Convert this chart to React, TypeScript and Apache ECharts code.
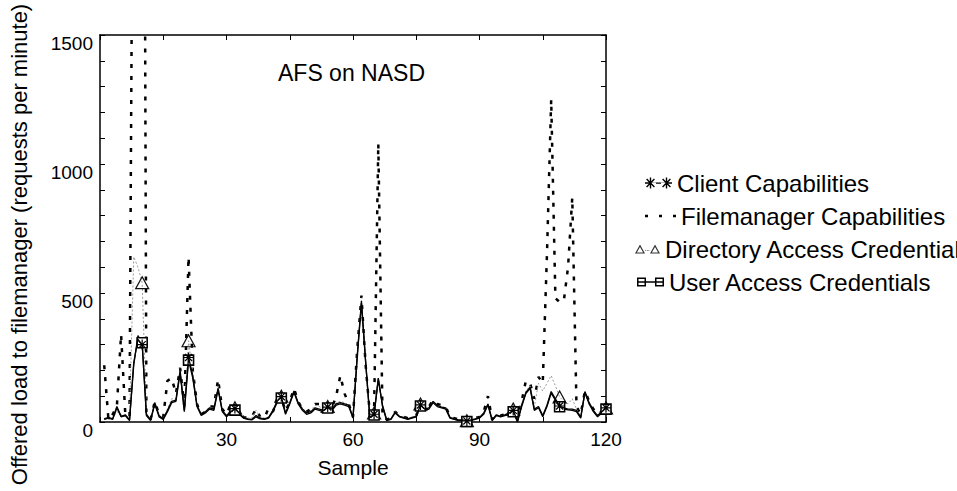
import React, { useEffect, useRef } from "react";
import * as echarts from "echarts";

const FONT = "'Liberation Sans', Arial, Helvetica, sans-serif";

// Sample numbers (x) and marker placement
const samples: number[] = Array.from({ length: 120 }, (_, i) => i + 1);
const markerFirstSample = 10;
const markerStep = 11;

const xTicks = { min: 0, max: 120, interval: 15, labelEvery: 30 };
const yTicks = { min: 0, max: 1500, interval: 100, labelEvery: 500 };

const seriesNames = [
  "Client Capabilities",
  "Filemanager Capabilities",
  "Directory Access Credentials",
  "User Access Credentials",
];

const clientCaps = [
  12, 18, 12, 60, 22, 28, 8, 230, 320, 300,
  30, 8, 75, 25, 12, 45, 80, 85, 200, 45,
  250, 180, 65, 30, 40, 55, 50, 130, 45, 25,
  40, 52, 35, 18, 12, 10, 25, 15, 12, 18,
  45, 80, 98, 35, 75, 120, 75, 50, 35, 40,
  55, 50, 45, 58, 50, 70, 75, 70, 65, 18,
  255, 470, 235, 18, 30, 170, 65, 8, 12, 38,
  22, 18, 12, 18, 22, 66, 50, 55, 80, 65,
  58, 55, 18, 12, 8, 8, 4, 8, 12, 18,
  35, 70, 8, 28, 22, 28, 35, 45, 3, 65,
  115, 135, 50, 60, 25, 65, 118, 90, 62, 55,
  50, 50, 45, 18, 118, 75, 45, 25, 40, 55,
];

const filemanagerCaps = [
  220, 10, 30, 60, 340, 30, 20, 3000, 2800, 5000,
  40, 10, 80, 30, 20, 160, 170, 110, 210, 60,
  640, 200, 70, 30, 40, 60, 60, 165, 50, 30,
  70, 60, 40, 20, 15, 20, 50, 20, 15, 55,
  40, 80, 95, 40, 80, 130, 80, 50, 40, 50,
  70, 70, 50, 60, 55, 100, 180, 110, 70, 20,
  280, 490, 220, 30, 40, 1080, 20, 10, 15, 40,
  25, 20, 15, 20, 25, 70, 55, 60, 85, 70,
  65, 60, 20, 15, 10, 10, 5, 10, 15, 20,
  40, 100, 10, 30, 25, 30, 40, 50, 10, 80,
  160, 150, 90, 175, 150, 650, 1250, 480, 465, 470,
  600, 870, 60, 30, 120, 80, 50, 30, 40, 60,
];

const directoryCreds = [
  15, 10, 15, 40, 30, 20, 20, 640, 600, 540,
  35, 10, 75, 25, 15, 50, 90, 90, 200, 50,
  315, 190, 65, 30, 40, 60, 50, 140, 45, 25,
  45, 55, 35, 20, 15, 15, 45, 20, 15, 20,
  45, 80, 100, 35, 75, 120, 75, 55, 35, 45,
  65, 60, 50, 60, 55, 75, 80, 75, 65, 20,
  260, 470, 230, 20, 35, 170, 60, 8, 12, 40,
  22, 18, 12, 18, 22, 70, 50, 55, 80, 65,
  60, 55, 18, 12, 8, 8, 5, 8, 12, 18,
  35, 70, 8, 28, 22, 28, 35, 50, 5, 70,
  120, 140, 60, 150, 120, 150, 180, 140, 97, 80,
  70, 90, 50, 20, 110, 75, 45, 25, 40, 55,
];

const userCreds = [
  10, 15, 10, 55, 20, 25, 5, 220, 335, 307,
  25, 5, 70, 20, 10, 40, 75, 80, 190, 40,
  240, 170, 60, 25, 35, 50, 45, 125, 40, 20,
  35, 46, 30, 15, 10, 8, 20, 12, 10, 15,
  40, 75, 93, 30, 70, 115, 70, 45, 30, 35,
  50, 45, 40, 54, 45, 65, 70, 65, 60, 15,
  250, 460, 230, 15, 27, 165, 60, 5, 10, 35,
  20, 15, 10, 15, 20, 62, 45, 50, 75, 60,
  55, 50, 15, 10, 5, 5, 2, 5, 10, 15,
  30, 66, 5, 25, 20, 25, 30, 40, 0, 60,
  110, 130, 45, 55, 20, 60, 112, 85, 59, 50,
  47, 45, 40, 15, 115, 70, 40, 20, 35, 50,
];

// ---------- icon helpers ----------
function bar(cx: number, cy: number, ang: number, r: number, hw: number) {
  const dx = Math.cos(ang), dy = Math.sin(ang);
  const nx = -dy, ny = dx;
  const p = [
    [cx - dx * r + nx * hw, cy - dy * r + ny * hw],
    [cx + dx * r + nx * hw, cy + dy * r + ny * hw],
    [cx + dx * r - nx * hw, cy + dy * r - ny * hw],
    [cx - dx * r - nx * hw, cy - dy * r - ny * hw],
  ];
  return "M" + p.map((q) => q[0].toFixed(2) + " " + q[1].toFixed(2)).join(" L") + " Z";
}
function asterisk(cx: number, cy: number, r: number, hw: number) {
  return [0, Math.PI / 4, Math.PI / 2, (3 * Math.PI) / 4].map((a) => bar(cx, cy, a, r, hw)).join(" ");
}
function rectP(x: number, y: number, w: number, h: number) {
  return `M${x} ${y} L${x + w} ${y} L${x + w} ${y + h} L${x} ${y + h} Z`;
}
function rectHole(x: number, y: number, w: number, h: number) {
  return `M${x} ${y} L${x} ${y + h} L${x + w} ${y + h} L${x + w} ${y} Z`;
}
function hollowTri(x: number, w: number, h: number, t: number) {
  const outer = `M${x} ${h} L${x + w / 2} 0 L${x + w} ${h} Z`;
  const inner = `M${x + t * 1.7} ${h - t} L${x + w - t * 1.7} ${h - t} L${x + w / 2} ${t * 2.2} Z`;
  return outer + " " + inner;
}

const asteriskSymbol = "path://" + asterisk(4.5, 4.5, 4.5, 0.55);
const clientIcon =
  "path://" + asterisk(5.5, 5.5, 5.5, 0.7) + " " + rectP(5.5, 4.9, 16, 1.3) + " " + asterisk(21.5, 5.5, 5.5, 0.7);
const fileIcon =
  "path://" + rectP(0, 0, 3, 2.4) + " " + rectP(14, 0, 3, 2.4) + " " + rectP(28, 0, 3, 2.4);
const dirIcon = (() => {
  let d = hollowTri(0, 10, 9, 1.1) + " " + hollowTri(15, 10, 9, 1.1);
  for (let x = 10.3; x < 14.5; x += 1.6) d += " " + rectP(x, 5.5, 0.8, 0.7);
  return "path://" + d;
})();
const userIcon =
  "path://" + rectP(0, 0, 9, 9) + " " + rectHole(1.5, 1.5, 6, 6) + " " +
  rectP(18, 0, 9, 9) + " " + rectHole(19.5, 1.5, 6, 6) + " " + rectP(0, 3.8, 27, 1.4);

function buildData(values: number[], symbol: string) {
  return samples.map((s, i) => ({
    value: [s, values[i]],
    symbol: s >= markerFirstSample && (s - markerFirstSample) % markerStep === 0 ? symbol : "none",
  }));
}

export default function App() {
  const ref = useRef<HTMLDivElement>(null);
  useEffect(() => {
    if (!ref.current) return;
    const chart = echarts.init(ref.current, undefined, { renderer: "svg" });

    const axisLine = { show: true, onZero: false, lineStyle: { color: "#000", width: 1.5 } };
    const axisTick = { show: true, inside: true, length: 5, lineStyle: { color: "#000", width: 1 } };

    const legendBase = {
      orient: "vertical",
      padding: 0,
      itemGap: 0,
      selectedMode: false,
      symbolKeepAspect: true,
      textStyle: { fontSize: 24, color: "#000", fontFamily: FONT, lineHeight: 26 },
    };
    const rows = [183, 216, 249, 282];

    const option: any = {
      animation: false,
      backgroundColor: "#fff",
      textStyle: { fontFamily: FONT },
      title: {
        text: "AFS on NASD",
        left: 278,
        top: 61,
        padding: 0,
        textStyle: { fontSize: 23, fontWeight: "normal", color: "#000", fontFamily: FONT },
      },
      grid: { left: 97, right: 351, top: 35, bottom: 69, containLabel: false },
      legend: [
        { ...legendBase, left: 645, top: rows[0] - 13, itemWidth: 27, itemHeight: 11,
          data: [{ name: seriesNames[0], icon: clientIcon, itemStyle: { color: "#000", borderWidth: 0 } }] },
        { ...legendBase, left: 645, top: rows[1] - 13, itemWidth: 31, itemHeight: 2.4,
          data: [{ name: seriesNames[1], icon: fileIcon, itemStyle: { color: "#000", borderWidth: 0 } }] },
        { ...legendBase, left: 635, top: rows[2] - 13, itemWidth: 25, itemHeight: 9,
          data: [{ name: seriesNames[2], icon: dirIcon, itemStyle: { color: "#333", borderWidth: 0 } }] },
        { ...legendBase, left: 637, top: rows[3] - 13, itemWidth: 27, itemHeight: 9,
          data: [{ name: seriesNames[3], icon: userIcon, itemStyle: { color: "#000", borderWidth: 0 } }] },
      ],
      xAxis: [
        {
          type: "value", position: "bottom", min: xTicks.min, max: xTicks.max, interval: xTicks.interval,
          name: "Sample", nameLocation: "middle", nameGap: 35,
          nameTextStyle: { fontSize: 21, color: "#000", fontFamily: FONT },
          axisLine, axisTick,
          axisLabel: {
            fontSize: 19, color: "#000", margin: 8, fontFamily: FONT,
            formatter: (v: number) => (v > 0 && v % xTicks.labelEvery === 0 ? String(v) : ""),
          },
          splitLine: { show: false },
        },
        {
          type: "value", position: "top", min: xTicks.min, max: xTicks.max, interval: xTicks.interval,
          axisLine, axisTick, axisLabel: { show: false }, splitLine: { show: false },
        },
      ],
      yAxis: [
        {
          type: "value", position: "left", min: yTicks.min, max: yTicks.max, interval: yTicks.interval,
          name: "Offered load to filemanager (requests per minute)", nameLocation: "middle", nameGap: 70,
          nameTextStyle: { fontSize: 22, color: "#000", fontFamily: FONT, padding: [0, 32, 0, 0] },
          axisLine, axisTick,
          axisLabel: {
            fontSize: 19, color: "#000", margin: 7, fontFamily: FONT,
            verticalAlign: "top", lineHeight: 16,
            formatter: (v: number) => (v % yTicks.labelEvery === 0 ? String(v) : ""),
          },
          splitLine: { show: false },
        },
        {
          type: "value", position: "right", min: yTicks.min, max: yTicks.max, interval: yTicks.interval,
          axisLine, axisTick, axisLabel: { show: false }, splitLine: { show: false },
        },
      ],
      series: [
        {
          name: seriesNames[0], type: "line", z: 5,
          data: buildData(clientCaps, asteriskSymbol), symbolSize: 10,
          itemStyle: { color: "#000" },
          lineStyle: { color: "#000", width: 1.3 },
        },
        {
          name: seriesNames[1], type: "line", z: 2,
          data: buildData(filemanagerCaps, "none"),
          itemStyle: { color: "#000" },
          lineStyle: { color: "#000", width: 2.5, type: [4, 8] },
        },
        {
          name: seriesNames[2], type: "line", z: 3,
          data: buildData(directoryCreds, "triangle"), symbolSize: [13, 12],
          itemStyle: { color: "rgba(255,255,255,0)", borderColor: "#111", borderWidth: 1.2 },
          lineStyle: { color: "#999", width: 1, type: [2, 2] },
        },
        {
          name: seriesNames[3], type: "line", z: 4,
          data: buildData(userCreds, "rect"), symbolSize: 10,
          itemStyle: { color: "#fff", borderColor: "#000", borderWidth: 1.6 },
          lineStyle: { color: "#000", width: 1.3 },
        },
      ],
    };
    chart.setOption(option);
    return () => chart.dispose();
  }, []);

  return (
    <div
      ref={ref}
      style={{ position: "absolute", left: 0, top: 0, width: 957, height: 491, background: "#fff" }}
    />
  );
}
